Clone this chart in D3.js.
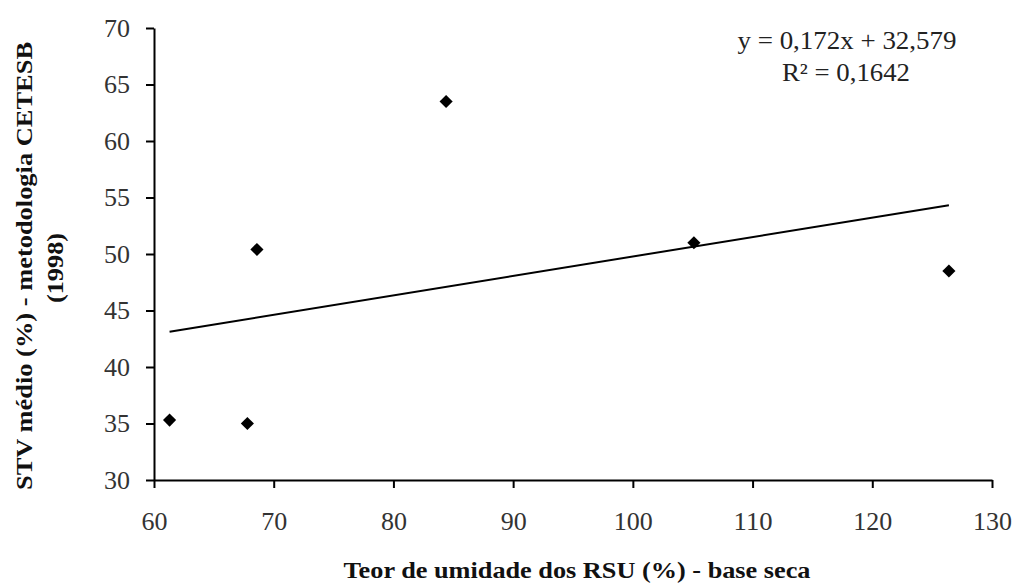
<!DOCTYPE html>
<html>
<head>
<meta charset="utf-8">
<script src="https://cdn.jsdelivr.net/npm/d3@7"></script>
<style>
  html, body { margin: 0; padding: 0; background: #fff; }
  svg { display: block; }
  text { font-family: "Liberation Serif", "Times New Roman", serif; }
</style>
</head>
<body>
<svg id="chart" width="1016" height="584"></svg>
<script>
// Moisture content (% dry basis) vs mean volatile solids (STV %)
const moisture = [61.3, 67.8, 68.6, 84.4, 105.1, 126.4];
const stv      = [35.3, 35.0, 50.4, 63.5, 51.0, 48.5];

const xTicks = [60, 70, 80, 90, 100, 110, 120, 130];
const yTicks = [30, 35, 40, 45, 50, 55, 60, 65, 70];

// Linear trendline as reported on the chart
const slope = 0.172;
const intercept = 32.579;
const eqLabel = "y = 0,172x + 32,579";
const r2Label = "R² = 0,1642";

const xTitle = "Teor de umidade dos RSU (%) - base seca";
const yTitle1 = "STV  médio (%) - metodologia CETESB";
const yTitle2 = "(1998)";

const svg = d3.select("#chart");
const plotLeft = 154, plotRight = 992, plotTop = 28, plotBottom = 480;

const x = d3.scaleLinear().domain([60, 130]).range([plotLeft, plotRight]);
const y = d3.scaleLinear().domain([30, 70]).range([plotBottom, plotTop]);

// X axis
const gx = svg.append("g")
  .attr("transform", `translate(0,${plotBottom})`)
  .call(d3.axisBottom(x).tickValues(xTicks).tickSize(8).tickPadding(24).tickSizeOuter(0));
gx.select(".domain").attr("stroke", "#000").attr("stroke-width", 2);
gx.selectAll(".tick line").attr("stroke", "#000").attr("stroke-width", 2);
gx.selectAll(".tick text")
  .attr("font-size", 25).attr("fill", "#333")
  .attr("textLength", d => String(d).length * 13).attr("lengthAdjust", "spacingAndGlyphs");

// Y axis
const gy = svg.append("g")
  .attr("transform", `translate(${plotLeft},0)`)
  .call(d3.axisLeft(y).tickValues(yTicks).tickSize(8).tickPadding(16).tickSizeOuter(0));
gy.select(".domain").attr("stroke", "#000").attr("stroke-width", 2);
gy.selectAll(".tick line").attr("stroke", "#000").attr("stroke-width", 2);
gy.selectAll(".tick text")
  .attr("font-size", 25).attr("fill", "#333")
  .attr("textLength", d => String(d).length * 13).attr("lengthAdjust", "spacingAndGlyphs");

// Trendline over the data range
const xMin = d3.min(moisture), xMax = d3.max(moisture);
svg.append("line")
  .attr("x1", x(xMin)).attr("y1", y(slope * xMin + intercept))
  .attr("x2", x(xMax)).attr("y2", y(slope * xMax + intercept))
  .attr("stroke", "#000").attr("stroke-width", 2);

// Diamond markers
const diamond = d3.symbol().type(d3.symbolDiamond2).size(110);
svg.append("g").selectAll("path")
  .data(moisture.map((m, i) => [m, stv[i]]))
  .join("path")
  .attr("d", diamond)
  .attr("transform", d => `translate(${x(d[0])},${y(d[1])})`)
  .attr("fill", "#000");

// Equation label
svg.append("text").attr("x", 847).attr("y", 49)
  .attr("text-anchor", "middle").attr("font-size", 25).attr("fill", "#222")
  .attr("textLength", 219).attr("lengthAdjust", "spacingAndGlyphs")
  .text(eqLabel);
svg.append("text").attr("x", 846).attr("y", 81)
  .attr("text-anchor", "middle").attr("font-size", 25).attr("fill", "#222")
  .attr("textLength", 128).attr("lengthAdjust", "spacingAndGlyphs")
  .text(r2Label);

// Axis titles
svg.append("text").attr("x", 577).attr("y", 578)
  .attr("text-anchor", "middle").attr("font-size", 24).attr("font-weight", "bold")
  .attr("fill", "#111")
  .attr("textLength", 467).attr("lengthAdjust", "spacingAndGlyphs")
  .text(xTitle);

svg.append("text")
  .attr("transform", "translate(32,266) rotate(-90)")
  .attr("text-anchor", "middle").attr("font-size", 24).attr("font-weight", "bold")
  .attr("fill", "#111")
  .attr("textLength", 448).attr("lengthAdjust", "spacingAndGlyphs")
  .text(yTitle1);
svg.append("text")
  .attr("transform", "translate(63,268) rotate(-90)")
  .attr("text-anchor", "middle").attr("font-size", 24).attr("font-weight", "bold")
  .attr("fill", "#111")
  .attr("textLength", 70).attr("lengthAdjust", "spacingAndGlyphs")
  .text(yTitle2);
</script>
</body>
</html>
